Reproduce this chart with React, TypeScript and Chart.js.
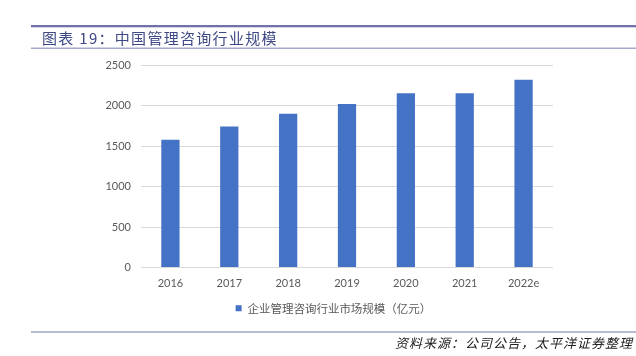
import React, { useEffect, useRef } from "react";
import { Chart, registerables } from "chart.js";

Chart.register(...registerables);

const categories = ["2016", "2017", "2018", "2019", "2020", "2021", "2022e"];
const marketSize = [1578, 1741, 1897, 2017, 2152, 2152, 2319];
const seriesLabel = "企业管理咨询行业市场规模（亿元）";
const titleText = "图表 19：中国管理咨询行业规模";
const sourceText = "资料来源：公司公告，太平洋证券整理";
const yMax = 2500;
const yStep = 500;

const decorations = {
  id: "decorations",
  afterLayout(chart: any) {
    if (chart.legend) {
      chart.legend.left += 12;
      chart.legend.right += 12;
      chart.legend.top -= 1;
      chart.legend.bottom -= 1;
    }
  },
  afterDraw(chart: any) {
    const ctx = chart.ctx as CanvasRenderingContext2D;
    ctx.save();
    ctx.fillStyle = "#7272aa";
    ctx.fillRect(31, 25, 605, 2.3);
    ctx.fillStyle = "#3e4884";
    ctx.font = '15px "Noto Sans CJK SC"';
    (ctx as any).letterSpacing = "1.3px";
    ctx.textBaseline = "middle";
    ctx.textAlign = "left";
    ctx.fillText(titleText, 42, 38);
    ctx.fillStyle = "#a6a8cc";
    ctx.fillRect(31, 47.5, 605, 1.5);
    ctx.fillStyle = "#b8bbd3";
    ctx.fillRect(31, 331, 605, 2);
    ctx.fillStyle = "#222222";
    ctx.font = 'italic 13px "Noto Sans CJK SC"';
    (ctx as any).letterSpacing = "1px";
    ctx.textAlign = "right";
    ctx.fillText(sourceText, 633, 343);
    ctx.restore();
  },
};

export default function App() {
  const ref = useRef<HTMLCanvasElement>(null);
  useEffect(() => {
    if (!ref.current) return;
    const chart = new Chart(ref.current, {
      type: "bar",
      data: {
        labels: categories,
        datasets: [
          {
            label: seriesLabel,
            data: marketSize,
            backgroundColor: "#4472c4",
            borderWidth: 0,
            barPercentage: 0.31,
            categoryPercentage: 1,
          },
        ],
      },
      options: {
        responsive: false,
        animation: false,
        layout: { padding: { left: 90, right: 83, top: 65, bottom: 31 } },
        plugins: {
          legend: {
            position: "bottom",
            labels: {
              boxWidth: 6,
              boxHeight: 6,
              padding: 6,
              color: "#595959",
              font: { family: '"Noto Sans CJK SC"', size: 11.5 },
            },
          },
          tooltip: { enabled: false },
        },
        scales: {
          x: {
            grid: { display: false, drawTicks: false },
            border: { display: false },
            ticks: {
              color: "#595959",
              padding: 9,
              font: { family: "Lato", size: 11 },
            },
            afterFit(scale: any) {
              scale.height = 30;
            },
          },
          y: {
            min: 0,
            max: yMax,
            grid: { color: "#d9d9d9", drawTicks: false },
            border: { display: false },
            ticks: {
              stepSize: yStep,
              color: "#595959",
              padding: 10,
              font: { family: "Lato", size: 11 },
              callback: (value: any) => String(value),
            },
            afterFit(scale: any) {
              scale.width = 51;
            },
          },
        },
      },
      plugins: [decorations],
    });
    return () => chart.destroy();
  }, []);
  return (
    <div style={{ position: "fixed", left: 0, top: 0, width: 636, height: 356, background: "#fff" }}>
      <canvas ref={ref} width={636} height={356} />
    </div>
  );
}
